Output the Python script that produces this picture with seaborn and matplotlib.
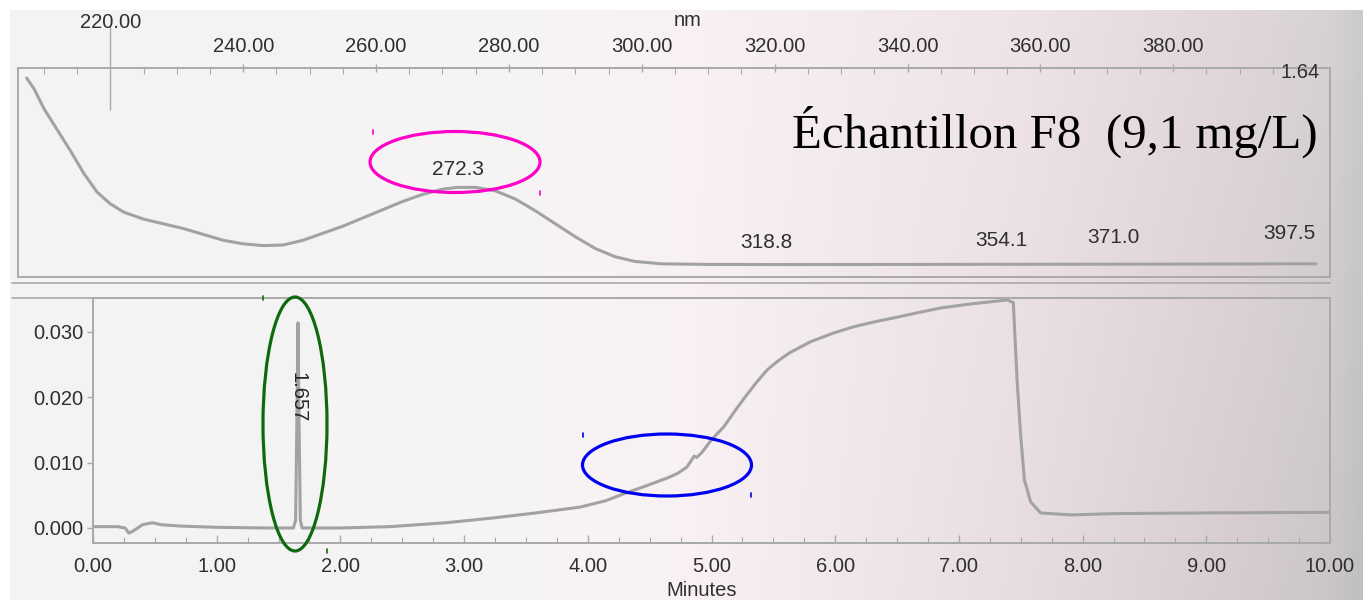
import numpy as np
import matplotlib
matplotlib.use("Agg")
import matplotlib.pyplot as plt
from matplotlib.patches import Ellipse, Rectangle
import seaborn as sns

# UV spectrum of the peak (wavelength in nm, absorbance)
wavelength_nm = [207.4, 208.5, 210, 212, 214, 216, 218, 220, 222, 225, 228, 231,
                 234, 237, 240, 243, 246, 249, 252, 255, 258, 261, 264, 267,
                 270, 272.3, 275, 278, 281, 284, 287, 290, 293, 296, 299, 303,
                 310, 318.8, 330, 354.1, 371.0, 385, 397.5, 401.5]
absorbance = [1.59, 1.50, 1.33, 1.15, 0.97, 0.78, 0.62, 0.52, 0.45, 0.39, 0.35, 0.31,
              0.26, 0.21, 0.18, 0.165, 0.17, 0.21, 0.27, 0.33, 0.40, 0.47, 0.54, 0.60,
              0.645, 0.66, 0.66, 0.63, 0.56, 0.46, 0.35, 0.24, 0.14, 0.07, 0.03, 0.01,
              0.005, 0.004, 0.004, 0.006, 0.007, 0.008, 0.010, 0.010]
spectrum_labels = [272.3, 318.8, 354.1, 371.0, 397.5]
spectrum_label_y = [0.81, 0.19, 0.21, 0.23, 0.27]
spectrum_max = 1.64
nm_ticks = [220, 240, 260, 280, 300, 320, 340, 360, 380]

# Chromatogram (time in minutes, AU)
time_min = [0.00, 0.20, 0.26, 0.29, 0.33, 0.40, 0.48, 0.55, 0.70, 1.00, 1.40,
            1.62, 1.638, 1.648, 1.657, 1.666, 1.676, 1.69, 2.00, 2.40, 2.85,
            3.22, 3.58, 3.94, 4.15, 4.30, 4.45, 4.55, 4.65, 4.73, 4.80, 4.86,
            4.88, 4.92, 5.00, 5.10, 5.20, 5.27, 5.36, 5.45, 5.54, 5.63, 5.72,
            5.80, 5.98, 6.15, 6.33, 6.51, 6.68, 6.86, 7.10, 7.39, 7.44, 7.47,
            7.50, 7.53, 7.58, 7.66, 7.91, 8.26, 9.00, 10.00]
signal_au = [0.0002, 0.0002, 0.0000, -0.0008, -0.0004, 0.0005, 0.0008, 0.0005,
             0.0003, 0.0001, 0.0000, 0.0000, 0.0012, 0.0160, 0.0314, 0.0160,
             0.0012, 0.0000, 0.0000, 0.0002, 0.0008, 0.0015, 0.0023, 0.0032,
             0.0042, 0.0053, 0.0063, 0.0070, 0.0077, 0.0084, 0.0093, 0.0110,
             0.0108, 0.0115, 0.0135, 0.0155, 0.0182, 0.0200, 0.0222, 0.0242,
             0.0256, 0.0268, 0.0277, 0.0285, 0.0298, 0.0308, 0.0316, 0.0323,
             0.0330, 0.0337, 0.0343, 0.0349, 0.0345, 0.0227, 0.0140, 0.0073,
             0.0040, 0.0023, 0.0020, 0.0022, 0.0023, 0.0024]
peak_rt = 1.657
au_ticks = [0.000, 0.010, 0.020, 0.030]
min_ticks = [0, 1, 2, 3, 4, 5, 6, 7, 8, 9, 10]

sample_title = "Échantillon F8  (9,1 mg/L)"

sns.set_theme(style="white")
plt.rcParams["font.family"] = ["Liberation Sans", "DejaVu Sans"]

W, H = 1363, 600
fig = plt.figure(figsize=(W / 100, H / 100), dpi=100)

LINE = "#a2a2a2"
FRAME = "#a9a9a9"
TXT = "#2f2f2f"
FS = 14.5

# paper tone: light grey on the left, pinkish grey toward the right
bg = fig.add_axes([0, 0, 1, 1], zorder=-10)
u = np.linspace(0, 1, 200)[None, :]
v = np.linspace(0, 1, 90)[:, None]
anchors_u = [0.0, 0.35, 0.5, 0.75, 0.92, 0.98, 1.0]
cols = np.array([(243, 243, 243), (246, 244, 245), (249, 241, 244), (238, 228, 232),
                 (224, 214, 218), (214, 210, 212), (205, 203, 204)], float)
img = np.zeros((90, 200, 3))
for c in range(3):
    img[:, :, c] = np.interp(u[0], anchors_u, cols[:, c])[None, :]
shade = 1 - 0.06 * v * np.clip((u - 0.5) * 2, 0, 1)
img = img * shade[:, :, None] / 255.0
bg.imshow(img, extent=[0, 1, 0, 1], aspect="auto", interpolation="bilinear")
bg.set_xlim(0, 1)
bg.set_ylim(0, 1)
bg.axis("off")


def fx(px):
    return px / W


def fy(py):
    return 1 - py / H


# ---- spectrum panel ----
ax1 = fig.add_axes([fx(18), fy(277), fx(1330) - fx(18), fy(68) - fy(277)])
ax1.set_facecolor("none")
sns.lineplot(x=wavelength_nm, y=absorbance, ax=ax1, color=LINE, lw=2.2,
             estimator=None, sort=False)
ax1.set_xlim(206.1, 403.6)
ax1.set_ylim(-0.102, 1.675)
ax1.xaxis.tick_top()
ax1.set_xticks(nm_ticks)
ax1.set_xticklabels([f"{t:.2f}" for t in nm_ticks], fontsize=FS, color=TXT)
ax1.set_xticks(np.arange(210, 401, 5), minor=True)
ax1.tick_params(axis="x", which="major", top=True, direction="inout", length=6,
                width=1, color=FRAME, pad=6)
ax1.tick_params(axis="x", which="minor", top=True, direction="in", length=4,
                width=0.8, color=FRAME)
ax1.set_yticks([])
first = ax1.xaxis.get_major_ticks()[0]
first.set_pad(23)
first.tick2line.set_markersize(60)
for s in ax1.spines.values():
    s.set_color(FRAME)
    s.set_linewidth(1.4)
ax1.set_xlabel("")
ax1.set_ylabel("")
ax1.text(402.0, spectrum_max, f"{spectrum_max:.2f}", ha="right", va="center",
         fontsize=FS, color=TXT)
for wl, yl in zip(spectrum_labels, spectrum_label_y):
    ax1.text(wl, yl, f"{wl:.1f}", ha="center", va="center", fontsize=FS + 0.5,
             color=TXT)

# ---- chromatogram panel ----
ax2 = fig.add_axes([fx(93), fy(543), fx(1330) - fx(93), fy(298) - fy(543)])
ax2.set_facecolor("none")
sns.lineplot(x=time_min, y=signal_au, ax=ax2, color=LINE, lw=2.2,
             estimator=None, sort=False)
ax2.set_xlim(0, 10)
ax2.set_ylim(-0.0023, 0.0352)
ax2.set_xticks(min_ticks)
ax2.set_xticklabels([f"{t:.2f}" for t in min_ticks], fontsize=FS, color=TXT)
ax2.set_yticks(au_ticks)
ax2.set_yticklabels([f"{t:.3f}" for t in au_ticks], fontsize=FS, color=TXT)
ax2.set_xticks(np.arange(0, 10.01, 0.25), minor=True)
ax2.tick_params(axis="x", which="major", bottom=True, direction="in", length=6,
                width=1, color=FRAME, pad=10)
ax2.tick_params(axis="x", which="minor", bottom=True, direction="in", length=4,
                width=0.8, color=FRAME)
ax2.tick_params(axis="y", which="major", left=True, direction="out", length=4,
                width=1, color=FRAME, pad=3)
for s in ax2.spines.values():
    s.set_color(FRAME)
    s.set_linewidth(1.4)
ax2.set_xlabel("")
ax2.set_ylabel("")
ax2.text(peak_rt, 0.0200, f"{peak_rt:.3f}", rotation=-90, ha="center",
         va="center", fontsize=FS, color="#242424")

# outer frame lines of the report panels
fig.add_artist(plt.Line2D([fx(12), fx(1330)], [fy(283), fy(283)], color=FRAME, lw=1.2))
fig.add_artist(plt.Line2D([fx(12), fx(93)], [fy(298), fy(298)], color=FRAME, lw=1.2))

# title
fig.text(fx(1318), fy(132), sample_title, ha="right", va="center",
         fontsize=35.2, color="black", family=["Liberation Serif", "DejaVu Serif"])

# axis names at the page edges
fig.text(fx(688), fy(21), "nm", ha="center", va="center", fontsize=FS, color=TXT)
fig.text(fx(702), fy(590), "Minutes", ha="center", va="center", fontsize=FS,
         color=TXT)

# highlight ellipses with their selection handles
def ring(cx, cy, w, h, color, corners):
    fig.add_artist(Ellipse((fx(cx), fy(cy)), w / W, h / H, fill=False,
                           edgecolor=color, lw=2.3, transform=fig.transFigure))
    for (hx, hy) in corners:
        fig.add_artist(plt.Line2D([fx(hx), fx(hx)], [fy(hy - 2), fy(hy + 2)],
                                  color=color, lw=1.2))


ring(455, 162, 170, 61, "#ff00c8", [(373, 132), (540, 193)])
ring(295, 424, 64, 254, "#0f6a0f", [(263, 298), (327, 551)])
ring(667, 465, 169, 62, "#0000f0", [(583, 435), (751, 495)])

# white scanner margins
fig.add_artist(Rectangle((0, fy(10)), 1, 10 / H, transform=fig.transFigure,
                         facecolor="white", edgecolor="none", zorder=20))
fig.add_artist(Rectangle((0, 0), 10 / W, 1, transform=fig.transFigure,
                         facecolor="white", edgecolor="none", zorder=20))

fig.savefig("out.png", dpi=100)
